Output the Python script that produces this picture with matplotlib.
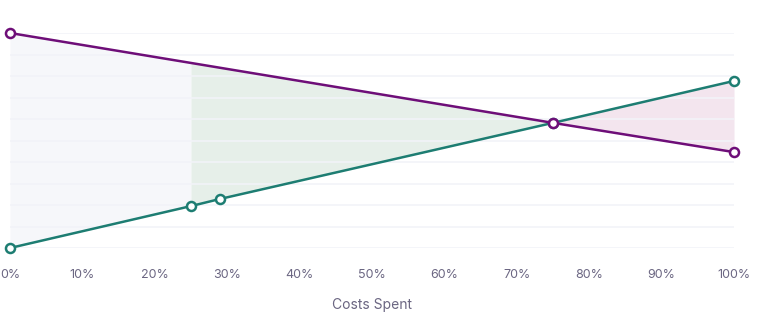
import numpy as np
import matplotlib.pyplot as plt

plt.rcParams['font.family'] = ['Inter', 'DejaVu Sans']

# Data (x in % of costs spent, y in arbitrary 0-100 units)
purple_x = [0, 75, 100]
purple_y = [100, 58.2, 44.6]
teal_x = [0, 25, 29, 75, 100]
teal_y = [0, 19.5, 22.8, 58.2, 77.7]
x_ticks = list(range(0, 101, 10))

purple = "#6e0e78"
teal = "#1d7d72"
tick_color = "#6b6682"

fig = plt.figure(figsize=(7.69, 3.22), dpi=100)
ax = fig.add_axes([10 / 769, 74 / 322, 724 / 769, 215 / 322])

# shaded regions between the two lines
xs = np.linspace(0, 100, 401)
py = np.interp(xs, purple_x, purple_y)
ty = np.interp(xs, teal_x, teal_y)
ax.fill_between(xs, py, ty, where=xs <= 25, color="#f6f7fa", lw=0)
ax.fill_between(xs, py, ty, where=(xs >= 25) & (xs <= 75), color="#e6efe9", lw=0)
ax.fill_between(xs, py, ty, where=xs >= 75, color="#f3e5ee", lw=0)

# horizontal gridlines
for g in range(0, 101, 10):
    ax.axhline(g, color="#f2f3f8", lw=1.2, zorder=1)

ax.plot(teal_x, teal_y, color=teal, lw=1.8, marker="o", ms=6.5,
        mfc="white", mec=teal, mew=1.8, zorder=3, clip_on=False)
ax.plot(purple_x, purple_y, color=purple, lw=1.8, marker="o", ms=6.5,
        mfc="white", mec=purple, mew=1.8, zorder=4, clip_on=False)

ax.set_xlim(0, 100)
ax.set_ylim(0, 100)
ax.set_xticks(x_ticks)
ax.set_xticklabels([f"{t}%" for t in x_ticks])
ax.set_yticks([])
ax.tick_params(axis="x", length=0, pad=15, labelsize=9, labelcolor=tick_color)
for s in ax.spines.values():
    s.set_visible(False)
ax.set_xlabel("Costs Spent", fontsize=10, color=tick_color, labelpad=12)

fig.savefig("out.png", dpi=100)
